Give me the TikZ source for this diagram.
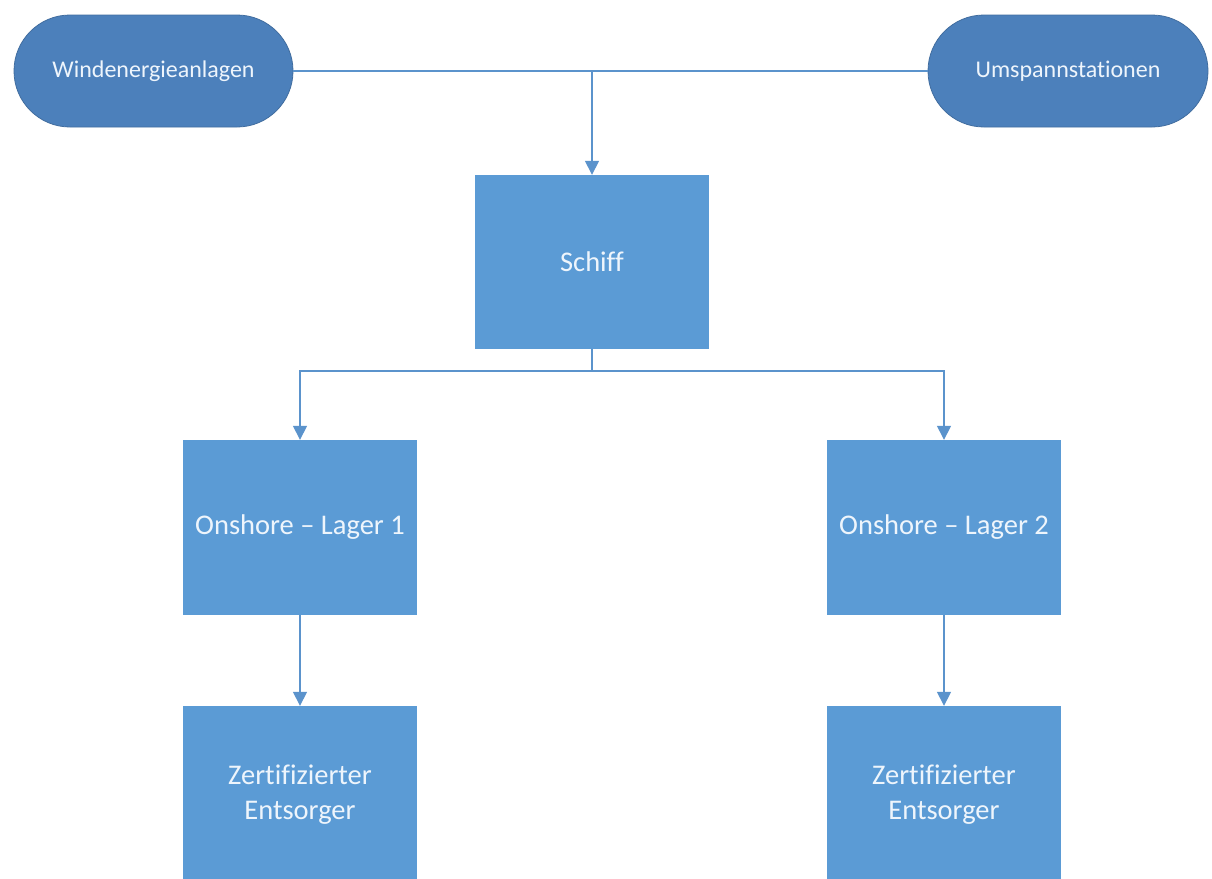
\documentclass[tikz,border=0pt]{standalone}
\usepackage{fontspec}
\setmainfont{Carlito}[Ligatures=NoCommon]
\usetikzlibrary{arrows.meta}
\definecolor{pillblue}{HTML}{4C80BB}
\definecolor{boxblue}{HTML}{5B9BD5}
\definecolor{linkblue}{HTML}{5B93CC}
\definecolor{txt}{HTML}{EEF5FC}
\tikzset{
  pill/.style={draw=pillblue!85!black, line width=0.8pt, fill=pillblue, rounded corners=56pt,
    minimum width=279pt, minimum height=112pt, text=txt, font=\fontsize{24}{28}\selectfont, inner sep=0pt},
  boxnode/.style={fill=boxblue, draw=none, minimum width=234pt, minimum height=175pt,
    text=txt, font=\fontsize{28.5}{35}\selectfont, align=center, inner sep=0pt},
  link/.style={draw=linkblue, line width=1.5pt},
  arr/.style={link, -{Triangle[width=14pt,length=14pt]}}
}
\begin{document}
\begin{tikzpicture}[x=1pt,y=-1pt]
\useasboundingbox (0,0) rectangle (1212,878);
\clip (0,0) rectangle (1212,878);
\fill[white] (0,0) rectangle (1212,878);
\node[pill] (W) at (153.5,71) {Windenergieanlagen};
\node[pill, minimum width=280pt] (U) at (1068,71) {Umspannstationen};
\node[boxnode, minimum height=174pt] (S) at (592,262) {Schiff};
\node[boxnode] (O1) at (300,527.5) {Onshore -- Lager 1};
\node[boxnode] (O2) at (944,527.5) {Onshore -- Lager 2};
\node[boxnode, minimum height=178pt] (Z1) at (300,795) {Zertifizierter\\Entsorger};
\node[boxnode, minimum height=178pt] (Z2) at (944,795) {Zertifizierter\\Entsorger};
\coordinate (j) at (592,371);
\draw[link] (W.east) -- (U.west);
\draw[arr] (W.east -| S.north) -- (S.north);
\draw[link] (S.south) -- (j);
\draw[arr] (j) -| (O1.north);
\draw[arr] (j) -| (O2.north);
\draw[arr] (O1.south) -- (Z1.north);
\draw[arr] (O2.south) -- (Z2.north);
\end{tikzpicture}
\end{document}
